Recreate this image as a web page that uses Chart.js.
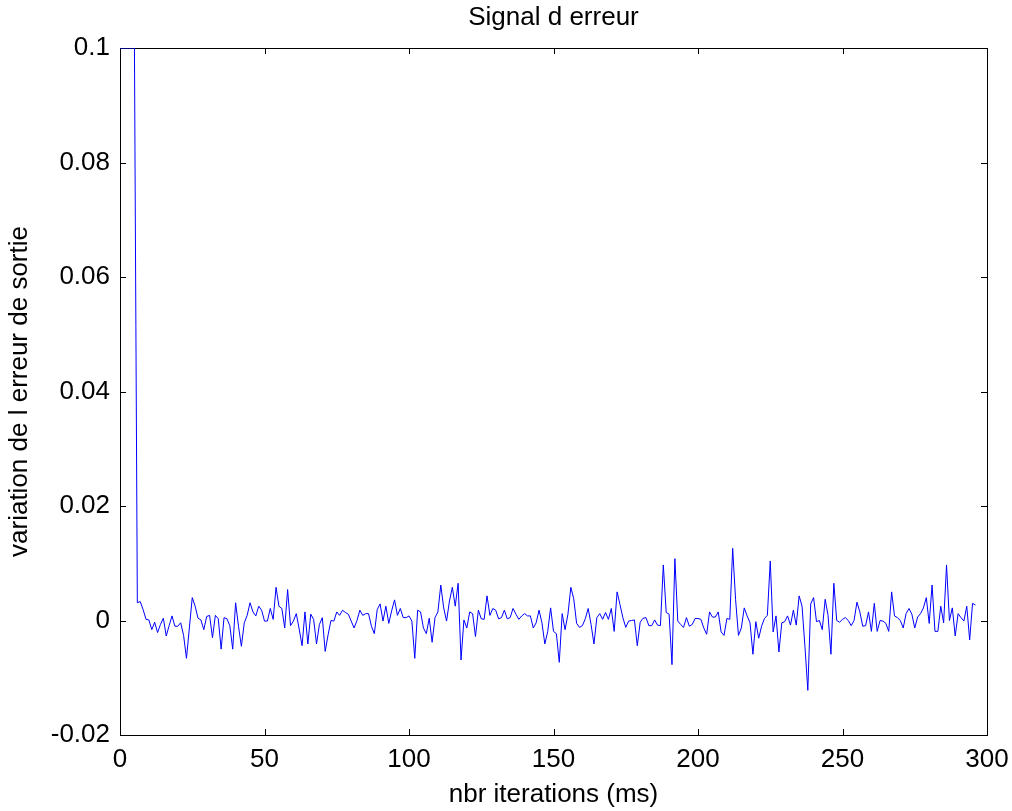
<!DOCTYPE html>
<html>
<head>
<meta charset="utf-8">
<script src="https://cdn.jsdelivr.net/npm/chart.js@4.4.1/dist/chart.umd.min.js"></script>
<style>
  body { margin: 0; background: #fff; }
  #wrap { width: 1012px; height: 811px; }
</style>
</head>
<body>
<div id="wrap"><canvas id="chart" width="1012" height="811"></canvas></div>
<script>
// signal d'erreur, one value per iteration starting at 0
const firstIteration = 0;
const erreur = [
  0.1, 0.1, 0.1, 0.1, 0.1, 0.1,
  0.0031, 0.0033, 0.0019, 0.0002, 0.0001, -0.0016, -0.0003, -0.0021, -0.0007, 0.0004,
  -0.0027, -0.0009, 0.0008, -0.0010, -0.0010, -0.0004, -0.0026, -0.0066, -0.0013, 0.0040,
  0.0025, 0.0004, 0.0001, -0.0016, 0.0007, 0.0009, -0.0030, 0.0009, 0.0003, -0.0050,
  0.0005, 0.0003, -0.0009, -0.0050, 0.0031, -0.0010, -0.0045, -0.0004, 0.0009, 0.0031,
  0.0015, 0.0008, 0.0025, 0.0018, -0.0001, -0.0001, 0.0021, 0.0002, 0.0058, 0.0025,
  0.0021, -0.0013, 0.0054, -0.0009, -0.0001, 0.0012, -0.0015, -0.0044, 0.0015, -0.0041,
  0.0011, 0.0002, -0.0041, -0.0007, 0.0005, -0.0054, -0.0025, 0.0000, -0.0001, 0.0015,
  0.0009, 0.0018, 0.0014, 0.0011, -0.0001, -0.0013, 0.0000, 0.0018, 0.0009, 0.0012,
  0.0012, -0.0010, -0.0023, 0.0019, 0.0029, -0.0001, 0.0025, -0.0005, 0.0017, 0.0036,
  0.0009, 0.0021, 0.0005, 0.0005, 0.0008, -0.0001, -0.0066, 0.0018, 0.0015, -0.0013,
  -0.0023, 0.0004, -0.0038, 0.0005, 0.0015, 0.0062, 0.0022, -0.0001, 0.0034, 0.0058,
  0.0025, 0.0065, -0.0069, 0.0001, -0.0013, 0.0015, 0.0012, -0.0028, 0.0018, 0.0003,
  0.0002, 0.0043, 0.0009, 0.0021, 0.0018, 0.0003, 0.0005, 0.0018, 0.0003, 0.0005,
  0.0021, 0.0011, 0.0002, 0.0008, 0.0012, 0.0008, 0.0008, -0.0013, -0.0004, 0.0018,
  -0.0004, -0.0041, -0.0019, 0.0022, -0.0019, -0.0023, -0.0073, 0.0012, -0.0016, 0.0011,
  0.0058, 0.0038, -0.0005, -0.0012, -0.0009, 0.0003, 0.0021, -0.0007, -0.0041, 0.0005,
  0.0012, 0.0002, 0.0014, 0.0002, 0.0021, -0.0019, 0.0050, 0.0028, 0.0005, -0.0012,
  -0.0001, 0.0000, 0.0001, -0.0044, -0.0003, 0.0004, 0.0005, -0.0009, -0.0009, 0.0001,
  -0.0008, -0.0009, 0.0097, 0.0014, 0.0011, -0.0077, 0.0108, -0.0001, -0.0007, -0.0012,
  0.0005, -0.0010, -0.0007, 0.00035, 0.00035, 0.0002, -0.0013, -0.0024, 0.0015, 0.0006,
  0.0006, 0.0015, -0.0020, -0.0026, 0.00035, 0.0002, 0.0126, 0.0037, -0.0026, -0.0013,
  0.0022, 0.0008, -0.0004, -0.0059, -0.0002, -0.0031, -0.0010, 0.00035, 0.0009, 0.0104,
  -0.0020, 0.0008, -0.0055, -0.0004, -0.0002, 0.0008, -0.0008, 0.0018, -0.0008, 0.0043,
  0.0025, -0.0045, -0.0122, 0.0029, 0.0040, -0.0002, 0.0000, -0.0016, 0.0037, 0.0009,
  -0.0059, 0.0065, 0.0000, -0.0003, 0.0002, 0.0005, 0.0000, -0.0009, 0.0000, 0.0032,
  0.0015, -0.0010, -0.0009, 0.0015, -0.0019, 0.0030, -0.0019, 0.0000, -0.0001, -0.0005,
  -0.0019, 0.0050, 0.0008, 0.0005, 0.0000, -0.0013, 0.0012, 0.0021, 0.0011, -0.0013,
  0.0006, 0.0012, 0.0022, 0.0040, -0.0005, 0.0062, -0.0019, -0.0019, 0.0025, -0.0004,
  0.0097, 0.0000, 0.0022, -0.0027, 0.0012, 0.0005, -0.0001, 0.0025, -0.0034, 0.0030,
  0.0027
];
const xTicks = [0, 50, 100, 150, 200, 250, 300];
const yTicks = [-0.02, 0, 0.02, 0.04, 0.06, 0.08, 0.1];

const points = erreur.map((v, i) => ({ x: firstIteration + i, y: v }));
const fontFamily = '"Liberation Sans", Arial, sans-serif';
const fontSize = 26;

// white background + matlab style box with inward ticks
const boxPlugin = {
  id: 'box',
  beforeDraw(chart) {
    const c = chart.ctx;
    c.save();
    c.fillStyle = '#fff';
    c.fillRect(0, 0, chart.width, chart.height);
    c.restore();
  },
  beforeDatasetsDraw(chart) {
    const c = chart.ctx, a = chart.chartArea;
    const xs = chart.scales.x, ys = chart.scales.y;
    const len = 6;
    c.save();
    c.strokeStyle = '#000';
    c.lineWidth = 1;
    c.beginPath();
    xTicks.forEach(t => {
      const px = Math.round(xs.getPixelForValue(t)) + 0.5;
      c.moveTo(px, a.bottom); c.lineTo(px, a.bottom - len);
      c.moveTo(px, a.top); c.lineTo(px, a.top + len);
    });
    yTicks.forEach(t => {
      const py = Math.round(ys.getPixelForValue(t)) + 0.5;
      c.moveTo(a.left, py); c.lineTo(a.left + len, py);
      c.moveTo(a.right, py); c.lineTo(a.right - len, py);
    });
    c.stroke();
    c.strokeRect(Math.round(a.left) + 0.5, Math.round(a.top) + 0.5,
      Math.round(a.right - a.left), Math.round(a.bottom - a.top));
    c.restore();
  }
};

function noSidePadding(scale) {
  scale.paddingLeft = 0;
  scale.paddingRight = 0;
}

new Chart(document.getElementById('chart'), {
  type: 'line',
  data: {
    datasets: [{
      label: 'erreur',
      data: points,
      borderColor: '#0000ff',
      borderWidth: 1,
      pointRadius: 0,
      tension: 0,
      fill: false
    }]
  },
  options: {
    responsive: false,
    animation: false,
    layout: { padding: { left: 0, right: 25, top: 0, bottom: 0 } },
    plugins: {
      legend: { display: false },
      tooltip: { enabled: false }
    },
    scales: {
      top: {
        type: 'linear',
        position: 'top',
        min: 0,
        max: 300,
        afterFit(scale) { scale.height = 48; noSidePadding(scale); },
        grid: { display: false },
        border: { display: false },
        ticks: { display: false },
        title: {
          display: true,
          text: 'Signal d erreur',
          color: '#000',
          font: { family: fontFamily, size: fontSize },
          padding: { top: 2, bottom: 0 }
        }
      },
      x: {
        type: 'linear',
        min: 0,
        max: 300,
        afterFit(scale) { scale.height = 76; noSidePadding(scale); },
        afterBuildTicks(scale) { scale.ticks = xTicks.map(v => ({ value: v })); },
        grid: { display: false },
        border: { display: false },
        ticks: {
          color: '#000',
          padding: 1,
          maxRotation: 0,
          font: { family: fontFamily, size: fontSize }
        },
        title: {
          display: true,
          text: 'nbr iterations (ms)',
          color: '#000',
          font: { family: fontFamily, size: fontSize },
          padding: { top: 0, bottom: 1 }
        }
      },
      y: {
        min: -0.02,
        max: 0.1,
        afterFit(scale) { scale.width = 120; },
        afterBuildTicks(scale) { scale.ticks = yTicks.map(v => ({ value: v })); },
        grid: { display: false },
        border: { display: false },
        ticks: {
          color: '#000',
          padding: 2,
          font: { family: fontFamily, size: fontSize },
          callback: v => String(Number(v.toFixed(3)))
        },
        title: {
          display: true,
          text: 'variation de l erreur de sortie',
          color: '#000',
          font: { family: fontFamily, size: fontSize },
          padding: { top: 4, bottom: 0 }
        }
      }
    }
  },
  plugins: [boxPlugin]
});
</script>
</body>
</html>
